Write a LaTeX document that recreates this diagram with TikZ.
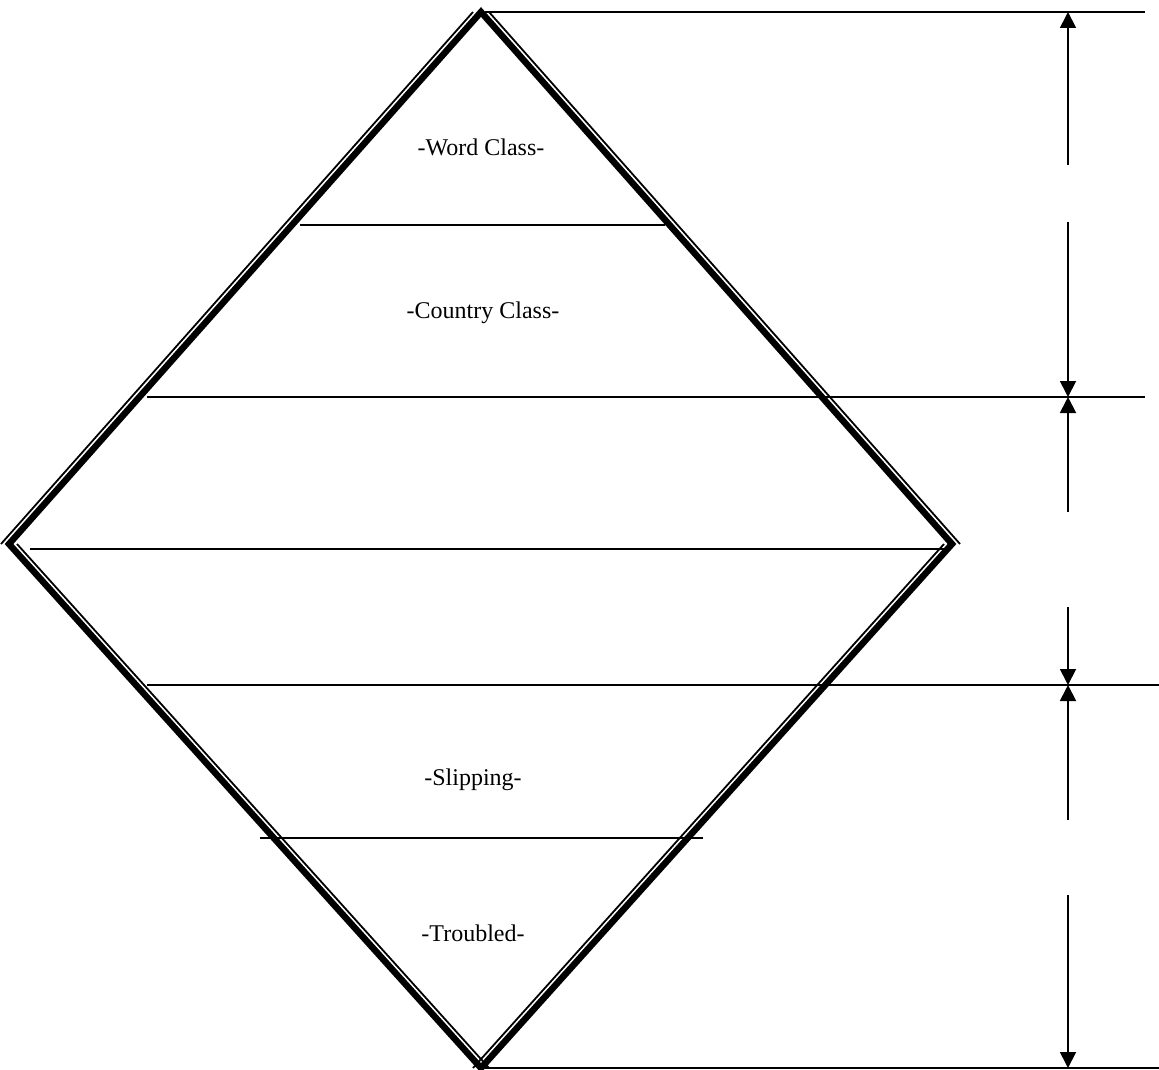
\documentclass[tikz,border=0pt]{standalone}
\usepackage{fontspec}
\setmainfont{Liberation Serif}
\usetikzlibrary{arrows.meta}
\begin{document}
\begin{tikzpicture}[x=1pt,y=-1pt,
  thickedge/.style={line width=6.5pt,line join=miter},
  thinedge/.style={line width=1.8pt},
  hline/.style={line width=1.8pt},
  dim/.style={line width=1.8pt,-{Triangle[width=16pt,length=16pt]}},
  lbl/.style={font=\fontsize{24}{28}\selectfont,inner sep=0pt}]
\useasboundingbox (0,0) rectangle (1159,1070);
% diamond vertices
\coordinate (T) at (481,12);
\coordinate (L) at (9,544);
\coordinate (R) at (952,544);
\coordinate (B) at (481,1068);
% thick border
\draw[thickedge] (T) -- (R) -- (B) -- (L) -- cycle;
% thin companion lines: outside on the upper half, inside on the lower half
\draw[thinedge] ([xshift=-8pt]T) -- ([xshift=-8pt]L);
\draw[thinedge] ([xshift=8pt]T) -- ([xshift=8pt]R);
\draw[thinedge] ([xshift=8pt]L) -- ([xshift=8pt]B);
\draw[thinedge] ([xshift=-8pt]R) -- ([xshift=-8pt]B);
% horizontal lines
\coordinate (h1a) at (485,12);   \coordinate (h1b) at (1145,12);
\coordinate (h2a) at (300,225);  \coordinate (h2b) at (665,225);
\coordinate (h3a) at (147,397);  \coordinate (h3b) at (1145,397);
\coordinate (h4a) at (30,549);   \coordinate (h4b) at (945,549);
\coordinate (h5a) at (147,685);  \coordinate (h5b) at (1159,685);
\coordinate (h6a) at (260,838);  \coordinate (h6b) at (703,838);
\coordinate (h7a) at (485,1068); \coordinate (h7b) at (1159,1068);
\draw[hline] (h1a) -- (h1b);
\draw[hline] (h2a) -- (h2b);
\draw[hline] (h3a) -- (h3b);
\draw[hline] (h4a) -- (h4b);
\draw[hline] (h5a) -- (h5b);
\draw[hline] (h6a) -- (h6b);
\draw[hline] (h7a) -- (h7b);
% dimension arrows
\coordinate (a1s) at (1068,165); \coordinate (a1e) at (1068,12);
\coordinate (a2s) at (1068,222); \coordinate (a2e) at (1068,397);
\coordinate (a3s) at (1068,512); \coordinate (a3e) at (1068,397);
\coordinate (a4s) at (1068,607); \coordinate (a4e) at (1068,685);
\coordinate (a5s) at (1068,820); \coordinate (a5e) at (1068,685);
\coordinate (a6s) at (1068,895); \coordinate (a6e) at (1068,1068);
\draw[dim] (a1s) -- (a1e);
\draw[dim] (a2s) -- (a2e);
\draw[dim] (a3s) -- (a3e);
\draw[dim] (a4s) -- (a4e);
\draw[dim] (a5s) -- (a5e);
\draw[dim] (a6s) -- (a6e);
% labels
\node[lbl] (word) at (481,147) {-Word Class-};
\node[lbl] (country) at (483,313) {-Country Class-};
\node[lbl] (slip) at (473,780) {-Slipping-};
\node[lbl] (trouble) at (473,933) {-Troubled-};
\end{tikzpicture}
\end{document}
